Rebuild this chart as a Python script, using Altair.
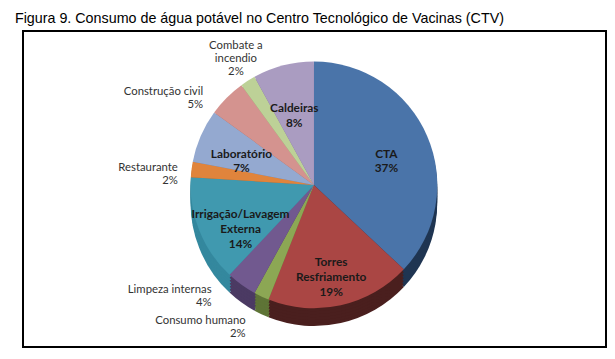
import altair as alt
import pandas as pd

categories = ["CTA", "Torres Resfriamento", "Consumo humano", "Limpeza internas",
              "Irrigação/Lavagem Externa", "Restaurante", "Laboratório",
              "Construção civil", "Combate a incendio", "Caldeiras"]
label_names = ["CTA", "Torres\nResfriamento", "Consumo humano", "Limpeza internas",
               "Irrigação/Lavagem\nExterna", "Restaurante", "Laboratório",
               "Construção civil", "Combate a\nincendio", "Caldeiras"]
values = [37, 19, 2, 4, 14, 2, 7, 5, 2, 8]

palette = ["#4A74A9", "#AA4644", "#8CA754", "#71598F", "#4099AF",
           "#E0843C", "#94A9D0", "#D4938F", "#BDD197", "#AA9CC1"]
dark = ["#1F3552", "#4A1F1E", "#5E7436", "#4B3A63", "#34889E",
        "#B0652A", "#6C7FA3", "#A06A67", "#8FA26C", "#7C6F92"]

df = pd.DataFrame({
    "idx": list(range(len(categories))),
    "category": categories,
    "value": values,
    "label": [f"{n}\n{v}%" for n, v in zip(label_names, values)],
})

W, H = 591, 320
CX, CY, R, D = 295, 156, 125, 18
theta_scale = alt.Scale(domain=[0, 100], range=[0, 6.283185307179586])

base = alt.Chart(df).transform_window(
    cum="sum(value)", sort=[alt.SortField("idx")]
).transform_calculate(
    start="datum.cum - datum.value",
    mid="datum.cum - datum.value / 2",
)

def arcs(off, colors):
    return base.mark_arc(x=CX, y=CY, radius=R, yOffset=off).encode(
        theta=alt.Theta("start:Q", scale=theta_scale),
        theta2="cum:Q",
        color=alt.Color("category:N", scale=alt.Scale(domain=categories, range=colors), legend=None),
    )

side_layers = [arcs(o, dark) for o in [18, 15, 12, 9, 6, 3]]
top = arcs(0, palette)

font = "Lato"
inner = base.transform_filter("datum.value >= 7").mark_text(
    x=CX, y=CY, radius=80, font=font, fontSize=12, fontWeight="bold",
    color="#1a1a1a", lineBreak="\n", align="center", baseline="middle", lineHeight=15,
).encode(theta=alt.Theta("mid:Q", scale=theta_scale), text="label:N")

def outer(names, align="right", radius=R + 14, dx=0, dy=0):
    return base.transform_filter(
        alt.FieldOneOfPredicate(field="category", oneOf=names)
    ).mark_text(
        x=CX, y=CY, radius=radius, font=font, fontSize=11.5, color="#333333",
        lineBreak="\n", align=align, baseline="middle", dx=dx, dy=dy, lineHeight=13,
    ).encode(theta=alt.Theta("mid:Q", scale=theta_scale), text="label:N")

out1 = outer(["Restaurante"])
out1b = outer(["Construção civil"], dx=-14, dy=4)
out2 = outer(["Limpeza internas"], dx=-22, dy=-6)
out3 = outer(["Consumo humano"], dx=-10, dy=12)
out4 = outer(["Combate a incendio"], align="center", radius=R + 30, dx=4, dy=-10)

frame = base.mark_rect(filled=False, stroke="#000000", strokeWidth=1.5).encode(
    x=alt.value(0), x2=alt.value(W), y=alt.value(0), y2=alt.value(H)
)

chart = alt.layer(*side_layers, top, inner, out1, out1b, out2, out3, out4, frame).resolve_scale(
    color="independent"
).properties(
    width=W, height=H,
    padding={"left": 7, "top": 0, "right": 0, "bottom": 0},
    title=alt.TitleParams(
        text="Figura 9. Consumo de água potável no Centro Tecnológico de Vacinas (CTV)",
        anchor="start", frame="group", dx=-8, offset=4,
        font="Liberation Sans", fontSize=14.5, fontWeight="normal", color="black",
    ),
).configure_view(stroke=None)

chart.save("out.html", embed_options={"renderer": "svg", "actions": False})
